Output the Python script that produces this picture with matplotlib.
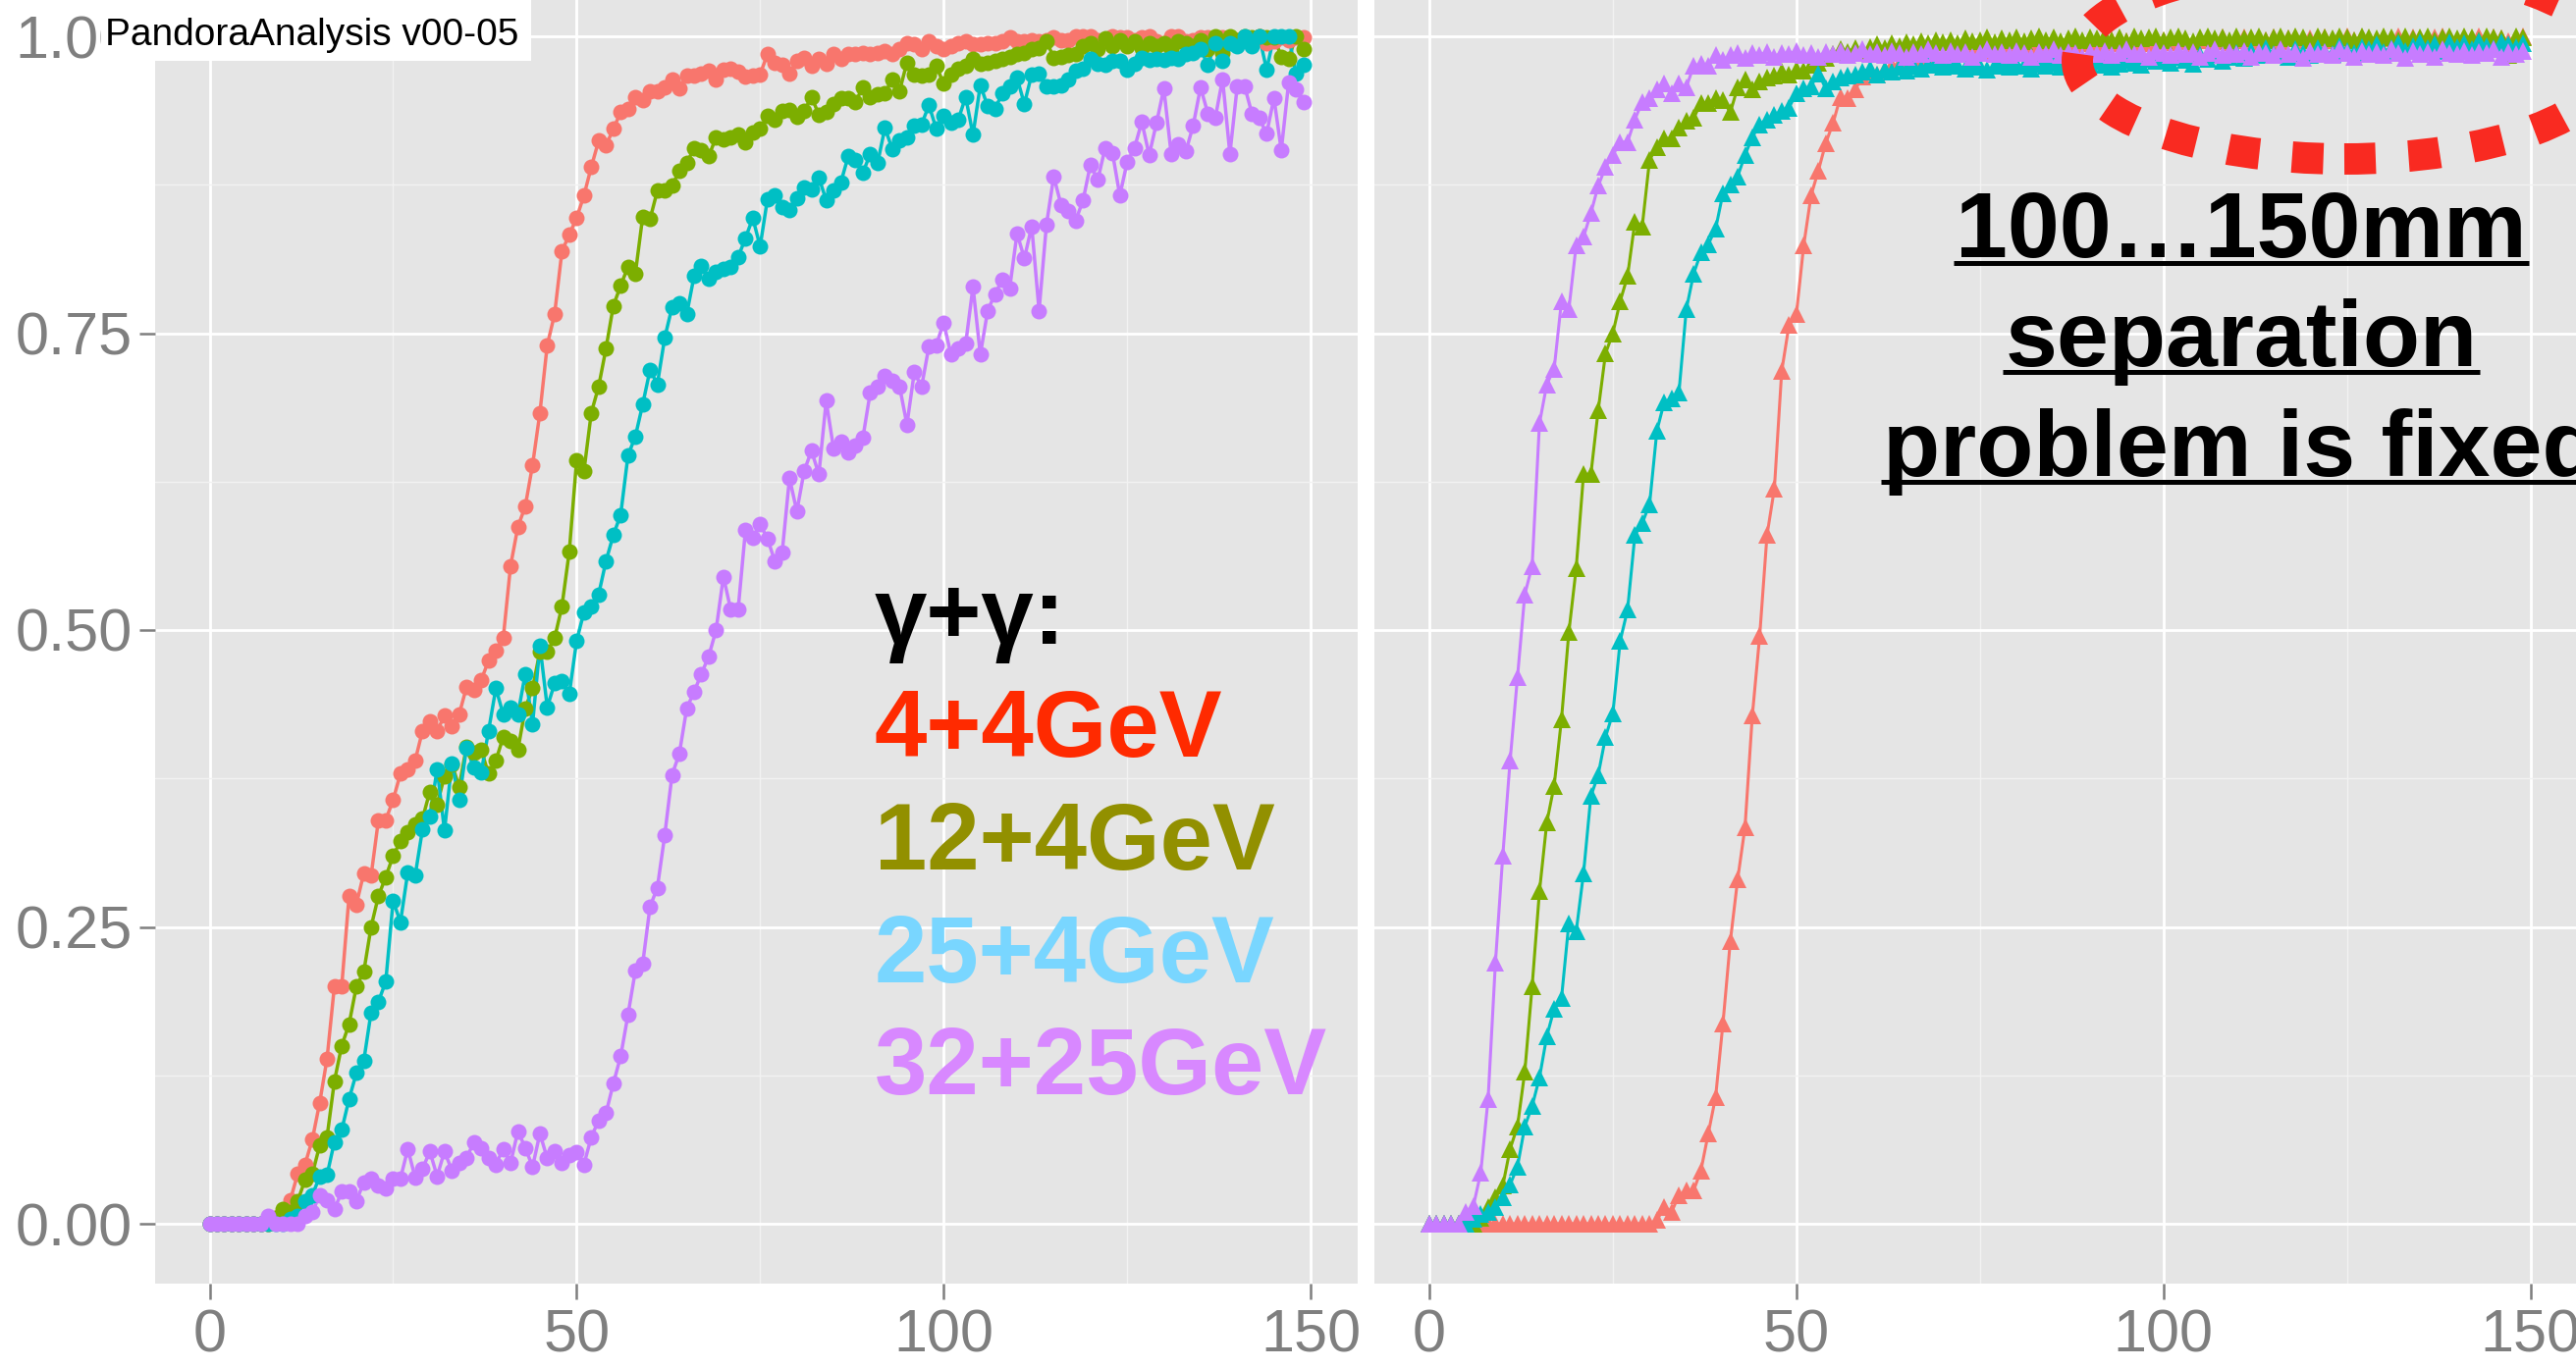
"""
photon_pair_separation.py
=========================
Fraction of correctly separated photon pairs versus their separation
distance [mm], before (left, circles) and after (right, triangles) the
PandoraAnalysis fix. One curve per photon-pair energy combination.
"""

import matplotlib
matplotlib.use("Agg")
import matplotlib.pyplot as plt
from matplotlib.patches import Ellipse, Rectangle
from matplotlib.lines import Line2D

plt.rcParams["font.family"] = ["Liberation Sans", "DejaVu Sans"]

# ---------------------------------------------------------------------------
# Data, x = separation in mm
# ---------------------------------------------------------------------------

SEPARATION_MM = list(range(150))

# left panel (old reconstruction)
LEFT_4_4 = [
    0, 0, 0, 0, 0, 0, 0, 0, 0, 0.005,
    0.01, 0.02, 0.042, 0.05, 0.071, 0.102, 0.139, 0.2, 0.2, 0.276,
    0.269, 0.295, 0.293, 0.34, 0.34, 0.357, 0.379, 0.383, 0.39, 0.415,
    0.423, 0.415, 0.428, 0.419, 0.429, 0.452, 0.45, 0.458, 0.474, 0.483,
    0.493, 0.554, 0.587, 0.604, 0.639, 0.683, 0.74, 0.766, 0.819, 0.833,
    0.847, 0.866, 0.89, 0.912, 0.908, 0.922, 0.936, 0.939, 0.949, 0.946,
    0.954, 0.954, 0.957, 0.964, 0.956, 0.967, 0.967, 0.969, 0.971, 0.964,
    0.972, 0.973, 0.97, 0.966, 0.967, 0.968, 0.985, 0.978, 0.976, 0.969,
    0.979, 0.982, 0.975, 0.981, 0.977, 0.985, 0.981, 0.985, 0.985, 0.986,
    0.985, 0.986, 0.988, 0.985, 0.989, 0.994, 0.993, 0.989, 0.996, 0.992,
    0.989, 0.992, 0.994, 0.996, 0.993, 0.993, 0.994, 0.994, 0.996, 0.999,
    0.996, 0.996, 0.997, 0.996, 0.997, 0.999, 0.997, 0.997, 1.0, 1.0,
    1.0, 0.997, 0.997, 1.0, 0.999, 0.999, 0.997, 0.999, 1.0, 0.996,
    0.994, 1.0, 1.0, 0.996, 0.997, 0.999, 0.999, 0.998, 0.999, 0.997,
    0.997, 0.999, 0.997, 1.0, 0.994, 0.996, 0.999, 0.997, 0.999, 0.999,
]
LEFT_12_4 = [
    0, 0, 0, 0, 0, 0, 0, 0, 0, 0.005,
    0.012, 0.01, 0.019, 0.037, 0.042, 0.066, 0.073, 0.12, 0.15, 0.168,
    0.2, 0.212, 0.25, 0.276, 0.292, 0.31, 0.322, 0.33, 0.336, 0.341,
    0.364, 0.353, 0.377, 0.387, 0.368, 0.402, 0.397, 0.399, 0.379, 0.39,
    0.41, 0.407, 0.399, 0.434, 0.451, 0.482, 0.482, 0.493, 0.52, 0.566,
    0.643, 0.634, 0.683, 0.705, 0.737, 0.773, 0.79, 0.806, 0.8, 0.848,
    0.846, 0.87, 0.87, 0.874, 0.887, 0.893, 0.906, 0.904, 0.899, 0.915,
    0.913, 0.915, 0.917, 0.911, 0.919, 0.922, 0.933, 0.93, 0.937, 0.938,
    0.932, 0.937, 0.949, 0.934, 0.936, 0.943, 0.948, 0.948, 0.945, 0.957,
    0.949, 0.951, 0.952, 0.964, 0.954, 0.978, 0.968, 0.967, 0.968, 0.975,
    0.96, 0.968, 0.973, 0.975, 0.981, 0.977, 0.978, 0.979, 0.981, 0.983,
    0.985, 0.986, 0.989, 0.99, 0.996, 0.982, 0.983, 0.984, 0.985, 0.992,
    0.994, 0.989, 0.998, 0.992, 0.997, 0.992, 0.996, 0.99, 0.994, 0.992,
    0.994, 0.989, 0.996, 0.994, 0.992, 0.997, 0.989, 1.0, 0.986, 1.0,
    0.997, 1.0, 0.999, 1.0, 0.999, 0.999, 0.983, 0.981, 1.0, 0.989,
]
LEFT_25_4 = [
    0, 0, 0, 0, 0, 0, 0, 0, 0, 0,
    0, 0.004, 0.007, 0.019, 0.024, 0.04, 0.041, 0.069, 0.079, 0.105,
    0.127, 0.137, 0.178, 0.187, 0.204, 0.272, 0.254, 0.296, 0.293, 0.332,
    0.343, 0.383, 0.331, 0.388, 0.357, 0.401, 0.384, 0.38, 0.415, 0.451,
    0.429, 0.435, 0.429, 0.463, 0.421, 0.487, 0.435, 0.455, 0.457, 0.446,
    0.491, 0.515, 0.52, 0.53, 0.558, 0.58, 0.597, 0.647, 0.663, 0.69,
    0.719, 0.707, 0.746, 0.772, 0.775, 0.766, 0.798, 0.807, 0.796, 0.802,
    0.804, 0.806, 0.814, 0.83, 0.847, 0.823, 0.863, 0.866, 0.856, 0.854,
    0.864, 0.873, 0.871, 0.881, 0.862, 0.87, 0.877, 0.899, 0.896, 0.885,
    0.901, 0.893, 0.923, 0.905, 0.912, 0.915, 0.925, 0.926, 0.942, 0.922,
    0.933, 0.927, 0.93, 0.949, 0.917, 0.959, 0.941, 0.939, 0.952, 0.958,
    0.965, 0.943, 0.968, 0.969, 0.958, 0.958, 0.959, 0.964, 0.971, 0.973,
    0.981, 0.977, 0.976, 0.979, 0.979, 0.972, 0.977, 0.982, 0.98, 0.981,
    0.98, 0.982, 0.981, 0.985, 0.986, 0.989, 0.976, 0.994, 0.979, 0.994,
    0.992, 1.0, 0.992, 1.0, 0.972, 1.0, 1.0, 1.0, 0.969, 0.976,
]
LEFT_32_25 = [
    0, 0, 0, 0, 0, 0, 0, 0, 0.007, 0,
    0, 0, 0, 0.007, 0.01, 0.024, 0.02, 0.012, 0.027, 0.027,
    0.019, 0.035, 0.038, 0.032, 0.03, 0.038, 0.038, 0.063, 0.039, 0.046,
    0.061, 0.04, 0.061, 0.045, 0.051, 0.055, 0.069, 0.064, 0.055, 0.05,
    0.063, 0.051, 0.078, 0.064, 0.048, 0.076, 0.055, 0.061, 0.051, 0.058,
    0.06, 0.05, 0.073, 0.087, 0.093, 0.118, 0.141, 0.176, 0.213, 0.219,
    0.267, 0.283, 0.327, 0.378, 0.396, 0.434, 0.448, 0.463, 0.478, 0.5,
    0.545, 0.517, 0.517, 0.584, 0.578, 0.589, 0.577, 0.558, 0.565, 0.628,
    0.6, 0.634, 0.651, 0.631, 0.693, 0.653, 0.659, 0.65, 0.655, 0.662,
    0.70, 0.705, 0.714, 0.71, 0.705, 0.673, 0.717, 0.705, 0.739, 0.74,
    0.759, 0.732, 0.737, 0.741, 0.789, 0.732, 0.769, 0.783, 0.795, 0.788,
    0.834, 0.813, 0.84, 0.769, 0.841, 0.882, 0.858, 0.853, 0.845, 0.862,
    0.892, 0.879, 0.906, 0.902, 0.866, 0.894, 0.906, 0.928, 0.9, 0.927,
    0.956, 0.901, 0.909, 0.903, 0.925, 0.957, 0.935, 0.931, 0.964, 0.901,
    0.958, 0.958, 0.935, 0.931, 0.918, 0.948, 0.904, 0.961, 0.955, 0.945,
]

# right panel (after the fix)
RIGHT_4_4 = [
    0, 0, 0, 0, 0, 0, 0, 0, 0, 0,
    0, 0, 0, 0, 0, 0, 0, 0, 0, 0,
    0, 0, 0, 0, 0, 0, 0, 0, 0, 0,
    0, 0.003, 0.014, 0.01, 0.024, 0.028, 0.028, 0.045, 0.076, 0.107,
    0.169, 0.238, 0.29, 0.334, 0.428, 0.495, 0.58, 0.619, 0.718, 0.757,
    0.766, 0.824, 0.866, 0.887, 0.91, 0.927, 0.949, 0.948, 0.955, 0.966,
    0.97, 0.968, 0.972, 0.975, 0.977, 0.979, 0.981, 0.983, 0.982, 0.985,
    0.984, 0.986, 0.988, 0.985, 0.987, 0.989, 0.99, 0.988, 0.991, 0.99,
    0.992, 0.99, 0.993, 0.991, 0.994, 0.992, 0.993, 0.995, 0.992, 0.994,
    0.996, 0.993, 0.995, 0.997, 0.994, 0.996, 0.995, 0.997, 0.994, 0.996,
    0.997, 0.995, 0.998, 0.996, 0.994, 0.997, 0.998, 0.996, 0.999, 0.995,
    0.997, 0.999, 0.996, 0.998, 0.997, 0.999, 0.996, 0.998, 0.999, 0.997,
    0.998, 0.996, 0.999, 0.997, 0.998, 1.0, 0.997, 0.999, 0.998, 0.996,
    0.999, 0.998, 1.0, 0.997, 0.999, 0.998, 0.996, 0.999, 1.0, 0.998,
    0.997, 0.999, 0.998, 1.0, 0.997, 0.999, 0.998, 0.996, 0.999, 1.0,
]
RIGHT_12_4 = [
    0, 0, 0, 0, 0, 0, 0, 0.005, 0.014, 0.022,
    0.032, 0.063, 0.082, 0.128, 0.2, 0.28, 0.338, 0.369, 0.425, 0.498,
    0.552, 0.631, 0.631, 0.685, 0.733, 0.75, 0.777, 0.798, 0.844, 0.84,
    0.896, 0.907, 0.914, 0.914, 0.923, 0.929, 0.931, 0.944, 0.944, 0.948,
    0.946, 0.936, 0.957, 0.964, 0.955, 0.962, 0.965, 0.967, 0.97, 0.968,
    0.972, 0.971, 0.976, 0.978, 0.982, 0.985, 0.989, 0.987, 0.99, 0.988,
    0.991, 0.993, 0.99, 0.994, 0.992, 0.995, 0.993, 0.996, 0.994, 0.997,
    0.995, 0.997, 0.994, 0.998, 0.996, 0.997, 0.999, 0.995, 0.998, 0.997,
    0.999, 0.996, 0.998, 1.0, 0.997, 0.999, 0.996, 0.998, 1.0, 0.997,
    0.999, 0.998, 1.0, 0.997, 0.999, 0.996, 1.0, 0.998, 0.999, 1.0,
    0.997, 0.999, 1.0, 0.998, 0.996, 0.999, 1.0, 0.998, 0.999, 0.997,
    1.0, 0.998, 0.999, 1.0, 0.997, 0.999, 1.0, 0.998, 1.0, 0.999,
    0.997, 1.0, 0.999, 0.998, 1.0, 0.999, 0.997, 1.0, 0.999, 0.998,
    1.0, 0.999, 0.997, 1.0, 0.998, 0.999, 1.0, 0.997, 0.999, 1.0,
    0.998, 1.0, 0.999, 0.997, 1.0, 0.999, 0.998, 0.984, 1.0, 0.999,
]
RIGHT_25_4 = [
    0, 0, 0, 0, 0, 0, 0.004, 0.008, 0.01, 0.014,
    0.022, 0.033, 0.048, 0.082, 0.099, 0.123, 0.158, 0.181, 0.19, 0.253,
    0.246, 0.295, 0.36, 0.378, 0.41, 0.43, 0.491, 0.517, 0.58, 0.59,
    0.606, 0.668, 0.692, 0.695, 0.7, 0.77, 0.8, 0.818, 0.825, 0.838,
    0.868, 0.875, 0.882, 0.9, 0.915, 0.926, 0.93, 0.934, 0.937, 0.94,
    0.952, 0.956, 0.958, 0.969, 0.956, 0.962, 0.965, 0.967, 0.968, 0.97,
    0.973, 0.968, 0.972, 0.97, 0.974, 0.971, 0.975, 0.973, 0.976, 0.978,
    0.974, 0.977, 0.975, 0.973, 0.976, 0.974, 0.972, 0.975, 0.977, 0.974,
    0.976, 0.975, 0.973, 0.977, 0.975, 0.978, 0.974, 0.976, 0.979, 0.975,
    0.977, 0.979, 0.976, 0.974, 0.977, 0.98, 0.978, 0.976, 0.981, 0.979,
    0.981, 0.978, 0.983, 0.98, 0.977, 0.984, 0.981, 0.985, 0.979, 0.983,
    0.986, 0.982, 0.988, 0.984, 0.99, 0.985, 0.987, 0.983, 0.989, 0.986,
    0.984, 0.99, 0.987, 0.985, 0.992, 0.988, 0.986, 0.991, 0.989, 0.993,
    0.987, 0.99, 0.994, 0.988, 0.992, 0.995, 0.99, 0.993, 0.988, 0.995,
    0.991, 0.994, 0.989, 0.996, 0.992, 0.99, 0.995, 0.993, 0.991, 0.994,
]
RIGHT_32_25 = [
    0, 0, 0, 0, 0, 0.01, 0.015, 0.043, 0.105, 0.22,
    0.31, 0.39, 0.46, 0.53, 0.554, 0.674, 0.707, 0.72, 0.777, 0.77,
    0.824, 0.831, 0.851, 0.874, 0.89, 0.9, 0.911, 0.911, 0.93, 0.945,
    0.948, 0.955, 0.96, 0.952, 0.96, 0.957, 0.975, 0.977, 0.975, 0.984,
    0.98, 0.984, 0.986, 0.982, 0.986, 0.984, 0.987, 0.983, 0.986, 0.985,
    0.988, 0.984, 0.986, 0.983, 0.987, 0.985, 0.988, 0.984, 0.986, 0.989,
    0.985, 0.987, 0.984, 0.988, 0.986, 0.983, 0.987, 0.985, 0.989, 0.986,
    0.984, 0.988, 0.985, 0.987, 0.983, 0.986, 0.989, 0.985, 0.987, 0.984,
    0.988, 0.986, 0.983, 0.987, 0.985, 0.989, 0.984, 0.987, 0.986, 0.983,
    0.987, 0.985, 0.988, 0.984, 0.986, 0.989, 0.985, 0.987, 0.983, 0.988,
    0.986, 0.984, 0.988, 0.985, 0.987, 0.983, 0.986, 0.989, 0.984, 0.987,
    0.985, 0.988, 0.983, 0.987, 0.986, 0.984, 0.989, 0.985, 0.987, 0.982,
    0.988, 0.985, 0.987, 0.984, 0.989, 0.986, 0.983, 0.988, 0.985, 0.987,
    0.984, 0.989, 0.986, 0.982, 0.988, 0.985, 0.987, 0.983, 0.989, 0.986,
    0.985, 0.988, 0.984, 0.987, 0.986, 0.989, 0.983, 0.987, 0.985, 0.988,
]

SERIES_COLORS = ["#F8766D", "#7CAE00", "#00BFC4", "#C77CFF"]  # ggplot hues

LEGEND_LINES = ["γ+γ:", "4+4GeV", "12+4GeV", "25+4GeV", "32+25GeV"]
LEGEND_COLORS = ["black", "#FF2A00", "#929000", "#79D6FF", "#D888FF"]

NOTE_LINES = ["100…150mm", "separation", "problem is fixed"]

X_TICKS = [0, 50, 100, 150]
X_MINOR = [25, 75, 125]
Y_TICKS = [0.0, 0.25, 0.5, 0.75, 1.0]
Y_MINOR = [0.125, 0.375, 0.625, 0.875]
Y_TICK_LABELS = ["0.00", "0.25", "0.50", "0.75", "1.00"]

# ---------------------------------------------------------------------------
# Layout (pixels of the 2624 x 1394 slide crop)
# ---------------------------------------------------------------------------

W, H = 2624, 1394
GREY = "#7F7F7F"


def fx(px):
    return px / W


def fy(py):
    # py measured from the top of the image
    return 1 - py / H


def style_panel(ax, show_y=True):
    ax.set_facecolor("#E5E5E5")
    for s in ax.spines.values():
        s.set_visible(False)
    ax.set_xlim(-7.45, 156.45)
    ax.set_ylim(-0.05, 1.05)
    ax.set_xticks(X_TICKS)
    ax.set_xticks(X_MINOR, minor=True)
    ax.set_yticks(Y_TICKS)
    ax.set_yticks(Y_MINOR, minor=True)
    ax.set_yticklabels(Y_TICK_LABELS)
    ax.grid(which="major", color="white", linewidth=2.0)
    ax.grid(which="minor", color="#F2F2F2", linewidth=1.0)
    ax.set_axisbelow(True)
    ax.tick_params(which="major", length=11.5, width=1.8, color=GREY,
                   labelcolor=GREY, labelsize=44)
    ax.tick_params(which="minor", length=0)
    ax.tick_params(axis="x", pad=7)
    ax.tick_params(axis="y", pad=5)
    if not show_y:
        ax.tick_params(axis="y", length=0, labelleft=False)


def draw_series(ax, series, marker, ms, lw):
    # geom_line first, then geom_point on top
    for vals, col in zip(series, SERIES_COLORS):
        ax.plot(SEPARATION_MM, vals, color=col, linewidth=lw, zorder=2)
    for vals, col in zip(series, SERIES_COLORS):
        ax.plot(SEPARATION_MM, vals, linestyle="none", marker=marker,
                markersize=ms, color=col, markeredgewidth=0, zorder=3)


def main():
    fig = plt.figure(figsize=(W / 100, H / 100), dpi=100)

    ax_bottom = 86.5 / H
    ax_height = 1331 / H
    ax_width = 1225.5 / W
    ax_l = fig.add_axes([fx(157.8), ax_bottom, ax_width, ax_height])
    ax_r = fig.add_axes([fx(1400.3), ax_bottom, ax_width, ax_height])

    style_panel(ax_l, show_y=True)
    style_panel(ax_r, show_y=False)

    draw_series(ax_l, [LEFT_4_4, LEFT_12_4, LEFT_25_4, LEFT_32_25],
                marker="o", ms=11.5, lw=2.5)
    draw_series(ax_r, [RIGHT_4_4, RIGHT_12_4, RIGHT_25_4, RIGHT_32_25],
                marker="^", ms=13.5, lw=2.2)

    # white label box in the top-left corner
    fig.add_artist(Rectangle((fx(103), fy(62)), fx(541) - fx(103), 62 / H,
                             transform=fig.transFigure, facecolor="white",
                             edgecolor="none", zorder=5))
    fig.text(fx(107), fy(46), "PandoraAnalysis v00-05", fontsize=28,
             color="black", va="baseline", zorder=6)

    # coloured energy legend
    for line, col, base in zip(LEGEND_LINES, LEGEND_COLORS,
                               [656, 771, 886, 1001, 1115]):
        fig.text(fx(891), fy(base), line, fontsize=69, fontweight="bold",
                 color=col, va="baseline", zorder=6)

    # underlined note on the right panel
    note_texts = []
    note_bases = [262, 373, 485]
    for line, base in zip(NOTE_LINES, note_bases):
        t = fig.text(fx(2283), fy(base), line, fontsize=68.5,
                     fontweight="bold", color="black", ha="center",
                     va="baseline", zorder=6)
        note_texts.append(t)

    fig.canvas.draw()
    renderer = fig.canvas.get_renderer()
    for t, base in zip(note_texts, note_bases):
        bb = t.get_window_extent(renderer)
        y = fy(base + 6)
        fig.add_artist(Line2D([bb.x0 / W - 0.001, bb.x1 / W + 0.001], [y, y],
                              transform=fig.transFigure, color="black",
                              linewidth=3.6, solid_capstyle="butt", zorder=6))

    # dotted red ellipse highlighting the plateau
    fig.add_artist(Ellipse((fx(2388), fy(62)), 544 / W, 200 / H,
                           transform=fig.transFigure, fill=False,
                           edgecolor="#F92A21", linewidth=23,
                           linestyle=(0, (1.0, 1.05)), zorder=10))

    fig.savefig("out.png", dpi=100, facecolor="white")


if __name__ == "__main__":
    main()
